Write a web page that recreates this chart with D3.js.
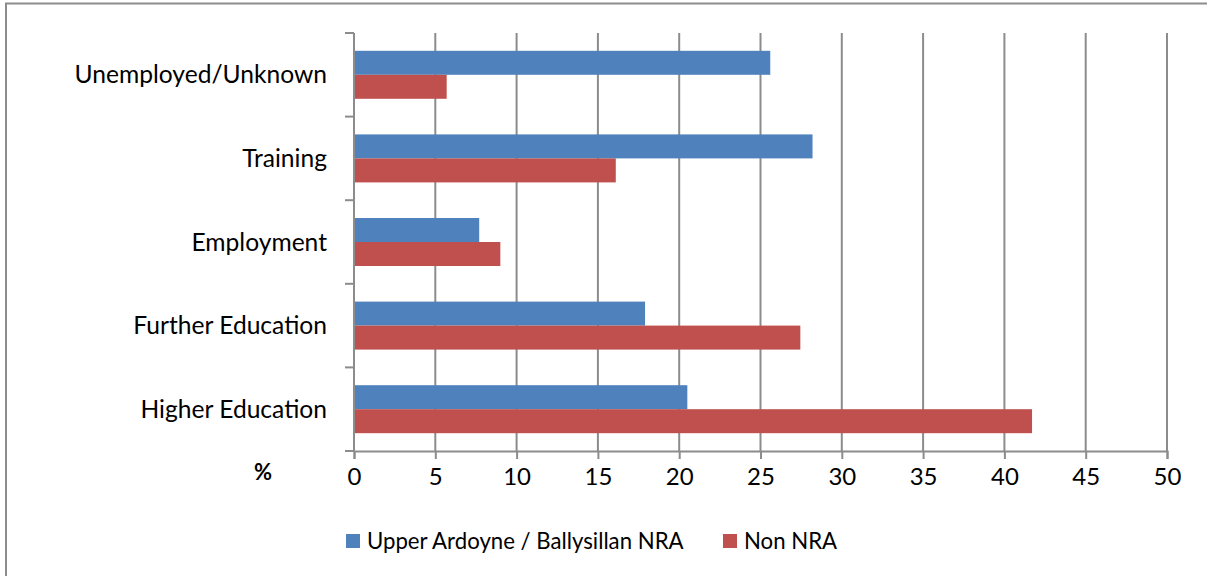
<!DOCTYPE html>
<html><head><meta charset="utf-8">
<script src="https://cdn.jsdelivr.net/npm/d3@7"></script>
<style>
html,body{margin:0;padding:0;background:#fff;}
svg{display:block;}
text{font-family:Lato, "Noto Sans", sans-serif;fill:#000;}
</style></head>
<body>
<svg id="c" width="1207" height="576"></svg>
<script>
const categories = ["Unemployed/Unknown","Training","Employment","Further Education","Higher Education"];
const seriesNames = ["Upper Ardoyne / Ballysillan NRA","Non NRA"];
const nraValues = [25.6, 28.2, 7.7, 17.9, 20.5];
const nonNraValues = [5.7, 16.1, 9.0, 27.45, 41.7];
const xTicks = [0,5,10,15,20,25,30,35,40,45,50];
const colors = ["#4F81BD","#C0504D"];

(function(){
const svg = d3.select("#c");
const pLeft = 354, pRight = 1167, pTop = 33, pBottom = 451;
const FS = 24.6, TFS = 24, LFS = 22.2;

// outer border
svg.append("rect").attr("x",6).attr("y",3.5).attr("width",1210).attr("height",600)
  .attr("fill","none").attr("stroke","#8c8c8c").attr("stroke-width",2);

const x = d3.scaleLinear().domain([0,50]).range([pLeft,pRight]);
const y = d3.scaleBand().domain(categories).range([pTop,pBottom]).paddingInner(0.426).paddingOuter(0.213);
const ySub = d3.scaleBand().domain([0,1]).range([0,y.bandwidth()]);
const step = y.step();

// gridlines
svg.append("g").selectAll("line").data(xTicks.slice(1)).join("line")
  .attr("x1",d=>x(d)).attr("x2",d=>x(d)).attr("y1",pTop).attr("y2",pBottom)
  .attr("stroke","#8c8c8c").attr("stroke-width",2);

// bars
const data = categories.map((c,i)=>({c, v:[nraValues[i], nonNraValues[i]]}));
const g = svg.append("g");
data.forEach(d=>{
  d.v.forEach((v,j)=>{
    g.append("rect").attr("x",x(0)).attr("y",y(d.c)+ySub(j))
      .attr("width",x(v)-x(0)).attr("height",ySub.bandwidth())
      .attr("fill",colors[j]);
  });
});

// x axis
const xAxis = d3.axisBottom(x).tickValues(xTicks).tickSize(8).tickPadding(9);
const xg = svg.append("g").attr("transform",`translate(0,${pBottom})`).call(xAxis);
xg.select(".domain").attr("stroke","#8c8c8c").attr("stroke-width",2);
xg.selectAll(".tick line").attr("stroke","#8c8c8c").attr("stroke-width",2);
xg.selectAll(".tick text").attr("font-size",TFS).attr("font-family","Lato").attr("fill","#000");

// y axis line + ticks at band boundaries
const boundaries = d3.range(categories.length+1).map(i=>pTop+i*step);
svg.append("line").attr("x1",pLeft).attr("x2",pLeft).attr("y1",pTop).attr("y2",pBottom)
  .attr("stroke","#8c8c8c").attr("stroke-width",2);
svg.append("g").selectAll("line").data(boundaries).join("line")
  .attr("x1",pLeft-9).attr("x2",pLeft).attr("y1",d=>d).attr("y2",d=>d)
  .attr("stroke","#8c8c8c").attr("stroke-width",2);

// category labels
svg.append("g").selectAll("text").data(categories).join("text")
  .attr("x",327).attr("y",(d,i)=>pTop+i*step+step/2)
  .attr("dy","0.35em").attr("text-anchor","end").attr("font-size",FS).text(d=>d);

// % label
svg.append("text").attr("x",263).attr("y",480).attr("text-anchor","middle")
  .attr("font-size",22).attr("font-weight","bold").text("%");

// legend
const legX = [346, 723];
seriesNames.forEach((s,i)=>{
  svg.append("rect").attr("x",legX[i]).attr("y",534).attr("width",14).attr("height",14).attr("fill",colors[i]);
  svg.append("text").attr("x",legX[i]+21).attr("y",549).attr("font-size",LFS).text(s);
});
})();
</script>
</body></html>
